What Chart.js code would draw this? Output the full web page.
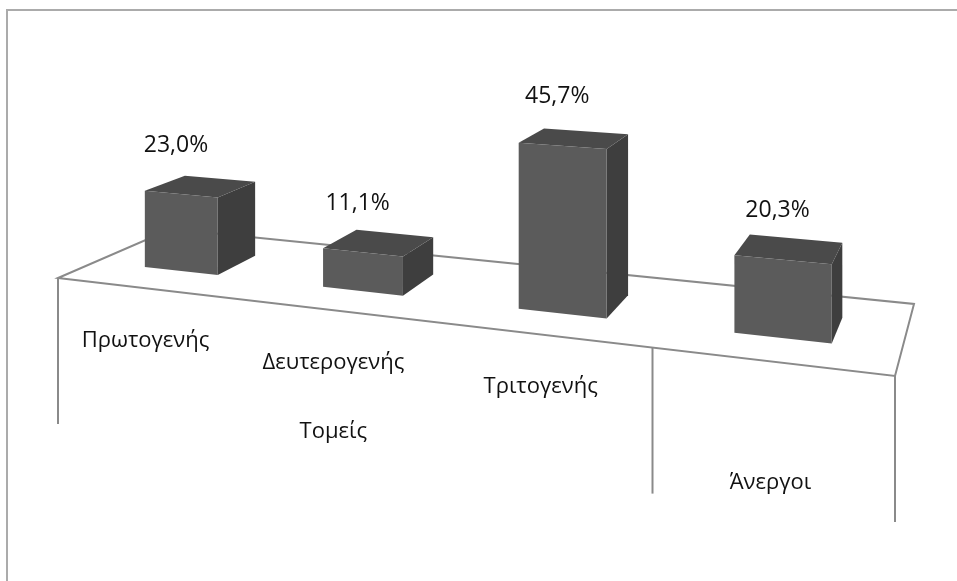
<!DOCTYPE html>
<html>
<head>
<meta charset="utf-8">
<script src="https://cdn.jsdelivr.net/npm/chart.js@4/dist/chart.umd.min.js"></script>
<style>
    html, body { margin: 0; padding: 0; background: #fff; }
    #wrap { width: 957px; height: 581px; }
</style>
</head>
<body>
<div id="wrap"><canvas id="sectorChart"></canvas></div>
<script>
// Data
const categories = ['Πρωτογενής', 'Δευτερογενής', 'Τριτογενής', ''];
const groupLabels = ['Τομείς', 'Άνεργοι'];
const groupSpans = [3, 1];
const values = [23.0, 11.1, 45.7, 20.3];
const yMax = 60;

// Colors / look
const colors = {
    front: '#5b5b5b',
    side: '#3e3e3e',
    top: '#4a4a4a',
    floor: '#8a8a8a',
    border: '#ababab',
    text: '#111111'
};
const font = '"Open Sans", "DejaVu Sans", sans-serif';

// Perspective floor: corners front-left, front-right, back-right, back-left
const floorQuad = [[58, 278], [895, 376], [914, 304], [171, 229]];
const fullHeight = 204;      // px height of yMax at the front-left corner
const barDepth = [0.31, 0.68];

function homography(q) {
    const [x0, y0] = q[0], [x1, y1] = q[1], [x2, y2] = q[2], [x3, y3] = q[3];
    const sx = x0 - x1 + x2 - x3, sy = y0 - y1 + y2 - y3;
    const dx1 = x1 - x2, dx2 = x3 - x2, dy1 = y1 - y2, dy2 = y3 - y2;
    const den = dx1 * dy2 - dx2 * dy1;
    const g = (sx * dy2 - dx2 * sy) / den;
    const h = (dx1 * sy - sx * dy1) / den;
    return {
        a: x1 - x0 + g * x1, b: x3 - x0 + h * x3, c: x0,
        d: y1 - y0 + g * y1, e: y3 - y0 + h * y3, f: y0,
        g: g, h: h
    };
}
const H = homography(floorQuad);

// u: along categories (0..1), v: depth (0 front, 1 back), hp: height in px at w=1
function proj(u, v, hp) {
    const w = H.g * u + H.h * v + 1;
    return {
        x: (H.a * u + H.b * v + H.c) / w,
        y: (H.d * u + H.e * v + H.f) / w - (hp || 0) / w
    };
}

function poly(ctx, pts, fill) {
    ctx.beginPath();
    ctx.moveTo(pts[0].x, pts[0].y);
    for (let i = 1; i < pts.length; i++) ctx.lineTo(pts[i].x, pts[i].y);
    ctx.closePath();
    ctx.fillStyle = fill;
    ctx.fill();
}

const bar3d = {
    id: 'bar3d',
    afterDraw(chart) {
        const ctx = chart.ctx;
        const area = chart.chartArea;
        const uOf = x => (x - area.left) / area.width;
        ctx.save();

        // outer frame
        ctx.strokeStyle = colors.border;
        ctx.lineWidth = 2;
        ctx.strokeRect(7, 10, 1000, 1000);

        // floor outline
        ctx.strokeStyle = colors.floor;
        ctx.lineWidth = 2;
        ctx.beginPath();
        floorQuad.forEach((p, i) => i ? ctx.lineTo(p[0], p[1]) : ctx.moveTo(p[0], p[1]));
        ctx.closePath();
        ctx.stroke();

        // category separators hanging from the front edge
        const n = categories.length;
        const seps = [0, groupSpans[0] / n, 1];
        seps.forEach(u => {
            const p = proj(u, 0, 0);
            ctx.beginPath();
            ctx.moveTo(p.x, p.y);
            ctx.lineTo(p.x, p.y + 146);
            ctx.stroke();
        });

        // bars
        const meta = chart.getDatasetMeta(0);
        ctx.font = '23px ' + font;
        ctx.textAlign = 'center';
        ctx.textBaseline = 'middle';
        meta.data.forEach((el, i) => {
            const u0 = uOf(el.x - el.width / 2), u1 = uOf(el.x + el.width / 2);
            const hp = (el.base - el.y) / area.height * fullHeight * (yMax / (chart.scales.y.max));
            const [v0, v1] = barDepth;
            const fbl = proj(u0, v0, 0), fbr = proj(u1, v0, 0), bbr = proj(u1, v1, 0);
            const ftl = proj(u0, v0, hp), ftr = proj(u1, v0, hp);
            const btl = proj(u0, v1, hp), btr = proj(u1, v1, hp);
            poly(ctx, [fbr, bbr, btr, ftr], colors.side);
            poly(ctx, [ftl, ftr, btr, btl], colors.top);
            poly(ctx, [fbl, fbr, ftr, ftl], colors.front);

            const c = proj((u0 + u1) / 2, v0, hp);
            ctx.fillStyle = colors.text;
            ctx.fillText(values[i].toFixed(1).replace('.', ',') + '%', c.x - 5, c.y - 49);
        });

        // category labels
        ctx.font = '22px ' + font;
        categories.forEach((lab, i) => {
            if (!lab) return;
            const p = proj((i + 0.5) / n, 0, 0);
            ctx.fillText(lab, p.x, p.y + 52);
        });
        let start = 0;
        groupLabels.forEach((lab, gi) => {
            const p = proj((start + groupSpans[gi] / 2) / n, 0, 0);
            ctx.fillText(lab, p.x, p.y + 121);
            start += groupSpans[gi];
        });
        ctx.restore();
    }
};

document.addEventListener('DOMContentLoaded', function () {
    const sectorChart = new Chart(document.getElementById('sectorChart'), {
        type: 'bar',
        data: {
            labels: categories,
            datasets: [{
                label: 'Ποσοστό',
                data: values,
                backgroundColor: 'rgba(0,0,0,0)',
                borderWidth: 0,
                barPercentage: 0.42,
                categoryPercentage: 1
            }]
        },
        options: {
            responsive: true,
            maintainAspectRatio: false,
            animation: false,
            layout: { padding: 0 },
            plugins: {
                legend: { display: false },
                tooltip: { enabled: false }
            },
            scales: {
                x: { display: false },
                y: { display: false, min: 0, max: yMax }
            }
        },
        plugins: [bar3d]
    });
});
</script>
</body>
</html>
